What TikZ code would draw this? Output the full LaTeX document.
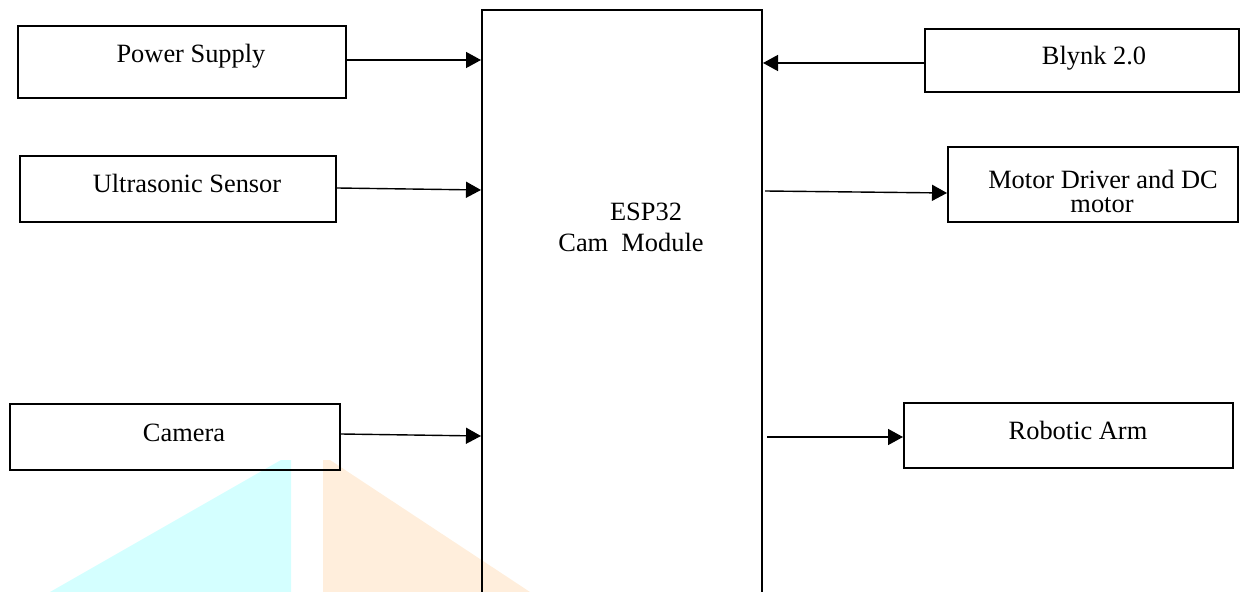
\documentclass[tikz,border=0pt]{standalone}
\usepackage{fontspec}
\setmainfont{Liberation Serif}
\usetikzlibrary{arrows.meta}
\definecolor{wmcyan}{HTML}{D4FFFF}
\definecolor{wmpeach}{HTML}{FFEEDC}
\tikzset{
  blk/.style={draw=black, line width=1pt, inner sep=0pt},
  lbl/.style={inner sep=0pt, text height=9pt, text depth=1.5pt, font=\fontsize{13.2pt}{15pt}\selectfont},
  arr/.style={line width=0.7pt, -{Triangle[length=7.5pt,width=8pt]}},
}
\begin{document}
\begin{tikzpicture}[x=0.5pt,y=-0.5pt]
\clip (0,0) rectangle (1240,592);
% watermark shapes
\fill[wmcyan] (50,592) -- (281,460) -- (291,460) -- (291,592) -- cycle;
\fill[wmpeach] (323,592) -- (323,460) -- (330,460) -- (530,592) -- cycle;
% central module (open at the bottom edge of the picture)
\node[blk, minimum width=140pt, minimum height=305pt] (esp) at (622,315) {};
\node[lbl, anchor=base] (espt1) at (646,221) {ESP32};
\node[lbl, anchor=base] (espt2) at (631,252) {Cam\ \ Module};
% left blocks
\node[blk, minimum width=164pt, minimum height=36pt] (ps) at (182,62) {};
\node[lbl, anchor=base] (pst) at (191,63) {Power Supply};
\node[blk, minimum width=158pt, minimum height=33pt] (us) at (178,189) {};
\node[lbl, anchor=base] (ust) at (187,193) {Ultrasonic Sensor};
\node[blk, minimum width=165pt, minimum height=33pt] (cam) at (175,437) {};
\node[lbl, anchor=base] (camt) at (184,442) {Camera};
% right blocks
\node[blk, minimum width=157pt, minimum height=31.5pt] (bl) at (1082,60.5) {};
\node[lbl, anchor=base] (blt) at (1094,65) {Blynk 2.0};
\node[blk, minimum width=145pt, minimum height=37.5pt] (md) at (1093,184.5) {};
\node[lbl, anchor=base] (mdt1) at (1103,189) {Motor Driver and DC};
\node[lbl, anchor=base] (mdt2) at (1102,213) {motor};
\node[blk, minimum width=164.5pt, minimum height=32.5pt] (ra) at (1068.5,435.5) {};
\node[lbl, anchor=base] (rat) at (1078,439) {Robotic Arm};
% helper y levels
\coordinate (y60) at (0,60);
\coordinate (y63) at (0,63);
\coordinate (y188) at (0,188);
\coordinate (y190) at (0,190);
\coordinate (y193) at (0,193);
\coordinate (y434) at (0,434);
\coordinate (y436) at (0,436);
\coordinate (y437) at (0,437);
\coordinate (r1) at (765,191);
\coordinate (r2) at (767,437);
% connectors
\draw[arr] (ps.east |- y60) -- (esp.west |- y60);
\draw[arr] (us.east |- y188) -- (esp.west |- y190);
\draw[arr] (cam.east |- y434) -- (esp.west |- y436);
\draw[arr] (bl.west |- y63) -- (esp.east |- y63);
\draw[arr] (r1) -- (md.west |- y193);
\draw[arr] (r2) -- (ra.west |- y437);
\end{tikzpicture}
\end{document}
